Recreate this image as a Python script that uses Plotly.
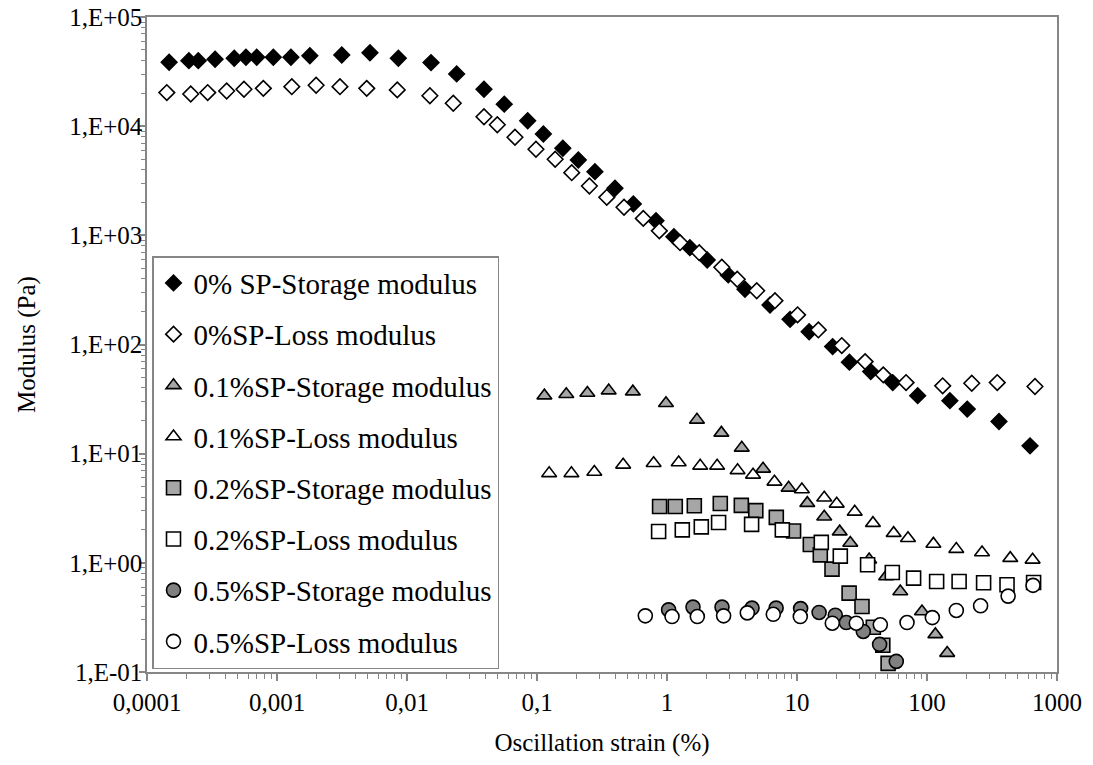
import plotly.graph_objects as go

# ---------------- data ----------------
s0_x = [1.48e-4, 2.10e-4, 2.48e-4, 3.34e-4, 4.69e-4, 5.77e-4, 6.98e-4, 9.37e-4, 1.28e-3, 1.79e-3,
        3.15e-3, 5.19e-3, 8.58e-3, 1.53e-2, 2.41e-2, 3.91e-2, 5.60e-2, 8.48e-2, 0.112, 0.158,
        0.208, 0.279, 0.398, 0.551, 0.823, 1.13, 1.50, 2.04, 2.96, 3.98,
        6.20, 8.84, 12.4, 18.8, 25.3, 36.9, 54.5, 84.8, 150, 204, 358, 620]
s0_y = [38500, 39800, 39800, 41000, 41900, 42800, 42800, 42800, 42800, 44200,
        44900, 47100, 41900, 38200, 30100, 21800, 15900, 11200, 8480, 6280,
        4900, 3830, 2700, 1940, 1360, 973, 771, 595, 434, 321,
        230, 170, 131, 95.7, 68.9, 56.5, 44.8, 34.0, 30.6, 25.6, 19.7, 11.8]

l0_x = [1.42e-4, 2.17e-4, 2.93e-4, 4.10e-4, 5.57e-4, 7.85e-4, 1.30e-3, 2.00e-3, 3.05e-3, 4.90e-3,
        8.42e-3, 1.50e-2, 2.27e-2, 3.91e-2, 4.95e-2, 6.77e-2, 9.82e-2, 0.138, 0.185, 0.253,
        0.344, 0.467, 0.657, 0.873, 1.26, 1.77, 2.64, 3.47, 4.90, 6.77,
        10.1, 14.6, 22.1, 33.4, 46.1, 69.0, 132, 221, 347, 677]
l0_y = [20300, 19700, 20300, 21000, 21800, 22200, 23000, 23700, 23000, 22200,
        21500, 19000, 16200, 12200, 10300, 7910, 6150, 4980, 3750, 2830,
        2230, 1810, 1430, 1100, 857, 694, 510, 396, 311, 252,
        187, 136, 97.7, 69.7, 52.7, 44.8, 41.8, 44.2, 44.8, 41.2]

s01_x = [0.114, 0.168, 0.244, 0.356, 0.546, 0.982, 1.70, 2.62, 3.76,
         5.48, 8.62, 12.0, 16.2, 21.3, 25.7, 35.9, 48.5, 62.3, 91.5, 116, 143]
s01_y = [34, 35, 36, 37.8, 37.0, 29.0, 20.4, 15.5, 11.3,
         7.26, 4.86, 3.52, 2.64, 1.93, 1.52, 1.07, 0.749, 0.546, 0.358, 0.221, 0.149]

l01_x = [0.124, 0.184, 0.276, 0.46, 0.789, 1.23, 1.80, 2.43,
         3.49, 4.59, 6.71, 10.9, 16.2, 20.2, 27.8, 38.4, 55.4, 71.4,
         112, 168, 265, 437, 649]
l01_y = [6.6, 6.6, 6.8, 7.90, 8.18, 8.29, 7.73, 7.73,
         7.03, 6.40, 5.52, 4.69, 3.94, 3.47, 2.93, 2.31, 1.87, 1.68,
         1.49, 1.335, 1.243, 1.104, 1.065]

s02_x = [0.877, 1.158, 1.622, 2.57, 3.73, 4.82, 6.93, 9.41, 12.66, 15.11,
         18.59, 25.17, 31.62, 38.64, 45.71, 50.22]
s02_y = [3.28, 3.28, 3.33, 3.49, 3.36, 3.01, 2.61, 1.955, 1.47, 1.184,
         0.876, 0.528, 0.398, 0.257, 0.176, 0.120]

l02_x = [0.862, 1.311, 1.836, 2.494, 4.475, 7.71, 15.38, 21.53, 34.92, 54.09,
         78.87, 118.6, 176.6, 272.5, 412.6, 660.7]
l02_y = [1.934, 2.005, 2.136, 2.339, 2.252, 2.005, 1.541, 1.152, 0.959, 0.815,
         0.724, 0.674, 0.674, 0.656, 0.629, 0.660]

s05_x = [1.029, 1.585, 2.649, 4.507, 6.91, 10.66, 14.79, 19.71, 23.94, 32.36, 43.19, 58.05]
s05_y = [0.371, 0.393, 0.393, 0.385, 0.385, 0.381, 0.351, 0.331, 0.284, 0.235, 0.179, 0.125]

l05_x = [0.681, 1.093, 1.711, 2.725, 4.147, 6.57, 10.6, 18.68, 28.58, 43.74,
         70.19, 109.9, 168.1, 258.4, 420.7, 653.9]
l05_y = [0.327, 0.322, 0.322, 0.327, 0.348, 0.338, 0.322, 0.280, 0.280, 0.2705,
         0.284, 0.315, 0.366, 0.404, 0.4955, 0.622]

names = ["0% SP-Storage modulus", "0%SP-Loss modulus",
         "0.1%SP-Storage modulus", "0.1%SP-Loss modulus",
         "0.2%SP-Storage modulus", "0.2%SP-Loss modulus",
         "0.5%SP-Storage modulus", "0.5%SP-Loss modulus"]

x_tickvals = [1e-4, 1e-3, 1e-2, 1e-1, 1, 10, 100, 1000]
x_ticktext = ["0,0001", "0,001", "0,01", "0,1", "1", "10", "100", "1000"]
y_tickvals = [1e-1, 1, 10, 100, 1e3, 1e4, 1e5]
y_ticktext = ["1,E-01", "1,E+00", "1,E+01", "1,E+02", "1,E+03", "1,E+04", "1,E+05"]

# ---------------- styles ----------------
series = [
    (s0_x, s0_y, "diamond", 12, "black"),
    (l0_x, l0_y, "diamond", 12, "white"),
    (s01_x, s01_y, "triangle-up", 13, "#A6A6A6"),
    (l01_x, l01_y, "triangle-up", 13, "white"),
    (s02_x, s02_y, "square", 14, "#A6A6A6"),
    (l02_x, l02_y, "square", 14, "white"),
    (s05_x, s05_y, "circle", 14, "#808080"),
    (l05_x, l05_y, "circle", 14, "white"),
]

fig = go.Figure()
for i, (xs, ys, sym, sz, col) in enumerate(series):
    fig.add_trace(go.Scatter(
        x=xs, y=ys, mode="markers", name=names[i], legendgroup=f"g{i}",
        marker=dict(symbol=sym, size=sz, color=col, line=dict(color="black", width=1.6)),
        cliponaxis=False,
    ))

minor_x = [m * 10 ** e for e in range(-4, 3) for m in range(2, 10)]
minor_y = [m * 10 ** e for e in range(-1, 5) for m in range(2, 10)]

font_family = "Liberation Serif, Times New Roman, serif"
axis_color = "#868686"

fig.update_layout(
    width=1093, height=765,
    margin=dict(l=147, r=36, t=17, b=93, autoexpand=False),
    paper_bgcolor="white", plot_bgcolor="white",
    font=dict(family=font_family, size=25, color="black"),
    showlegend=True,
    legend=dict(
        x=0.0055, y=0.635, xanchor="left", yanchor="top",
        bgcolor="white", bordercolor=axis_color, borderwidth=1.5,
        font=dict(family=font_family, size=29, color="black"),
        traceorder="grouped", tracegroupgap=10.5,
        itemwidth=30,
    ),
    xaxis=dict(
        type="log", range=[-4, 3], automargin=False,
        tickmode="array", tickvals=x_tickvals, ticktext=x_ticktext,
        ticks="outside", ticklen=7, tickwidth=1.5, tickcolor=axis_color,
        showline=True, linecolor=axis_color, linewidth=1.5, mirror=True,
        showgrid=False, zeroline=False,
        tickfont=dict(size=25), ticklabeloverflow="allow",
        minor=dict(tickmode="array", tickvals=minor_x, ticks="outside", ticklen=5,
                   tickwidth=1.2, tickcolor=axis_color, showgrid=False),
        title=dict(text="Oscillation strain (%)", font=dict(size=25), standoff=19),
    ),
    yaxis=dict(
        type="log", range=[-1, 5], automargin=False,
        tickmode="array", tickvals=y_tickvals, ticktext=y_ticktext,
        ticks="outside", ticklen=6, tickwidth=1.5, tickcolor=axis_color,
        showline=True, linecolor=axis_color, linewidth=1.5, mirror=True,
        showgrid=False, zeroline=False,
        tickfont=dict(size=25), ticklabeloverflow="allow", ticklabelstandoff=-8,
        minor=dict(tickmode="array", tickvals=minor_y, ticks="outside", ticklen=4,
                   tickwidth=1.2, tickcolor=axis_color, showgrid=False),
        title=dict(text="Modulus (Pa)", font=dict(size=25), standoff=26),
    ),
)

fig.write_html("out.html", config={"displayModeBar": False},
               post_script="document.body.style.margin='0';")
